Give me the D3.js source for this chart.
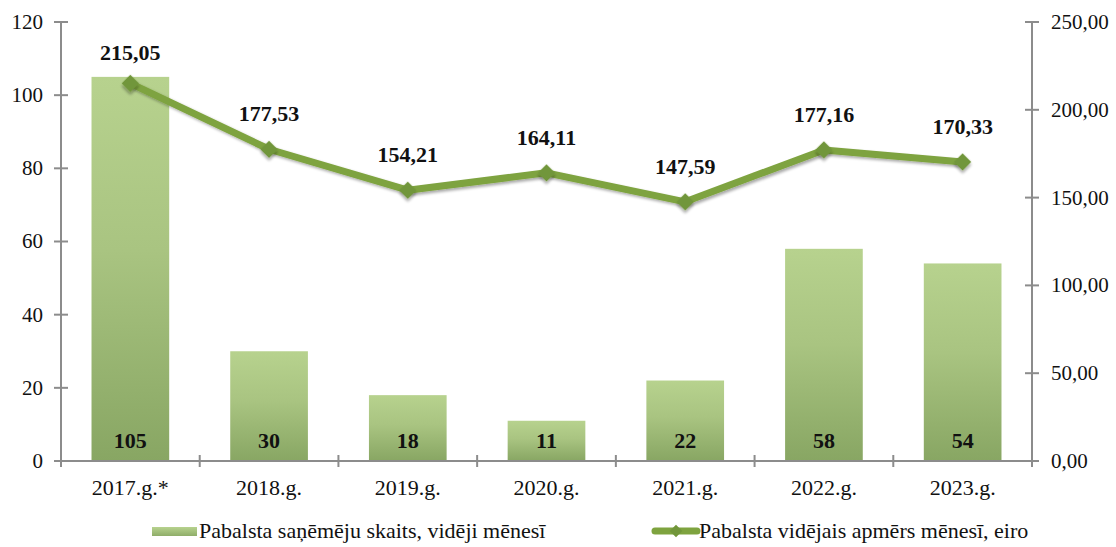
<!DOCTYPE html>
<html>
<head>
<meta charset="utf-8">
<script src="https://cdn.jsdelivr.net/npm/d3@7"></script>
<style>
  html, body { margin: 0; padding: 0; background: #fff; }
  svg { display: block; }
  svg text { font-family: 'Liberation Serif', 'Times New Roman', Times, 'DejaVu Serif', serif; }
</style>
</head>
<body>
<svg id="chart" width="1116" height="547"></svg>
<script>
// Pabalsta saņēmēji un vidējais apmērs pa gadiem
const years = ["2017.g.*", "2018.g.", "2019.g.", "2020.g.", "2021.g.", "2022.g.", "2023.g."];
const recipients = [105, 30, 18, 11, 22, 58, 54];
const avgAmount = [215.05, 177.53, 154.21, 164.11, 147.59, 177.16, 170.33];
const leftTicks = [0, 20, 40, 60, 80, 100, 120];
const rightTicks = [0, 50, 100, 150, 200, 250];
const legendLabels = [
  "Pabalsta sa\u0146\u0113m\u0113ju skaits, vid\u0113ji m\u0113nes\u012B",
  "Pabalsta vid\u0113jais apm\u0113rs m\u0113nes\u012B, eiro"
];

const FONT = "'Liberation Serif', 'Times New Roman', Times, 'DejaVu Serif', serif";
const FS = 21;
const svg = d3.select("#chart").attr("font-family", FONT);
const m = { left: 61, right: 1032, top: 22, bottom: 461 };

const x = d3.scaleBand().domain(years).range([m.left, m.right]).paddingInner(0.44).paddingOuter(0.22);
const xBand = d3.scaleBand().domain(years).range([m.left, m.right]);
const yL = d3.scaleLinear().domain([0, 120]).range([m.bottom, m.top]);
const yR = d3.scaleLinear().domain([0, 250]).range([m.bottom, m.top]);

const fmt = v => d3.format(".2f")(v).replace(".", ",");
const axisColor = "#8c8c8c";

const defs = svg.append("defs");
const grad = defs.append("linearGradient").attr("id", "barGrad")
  .attr("x1", 0).attr("y1", 0).attr("x2", 0).attr("y2", 1);
grad.append("stop").attr("offset", "0%").attr("stop-color", "#b7d28e");
grad.append("stop").attr("offset", "45%").attr("stop-color", "#a9c481");
grad.append("stop").attr("offset", "100%").attr("stop-color", "#88a663");

const lgGrad = defs.append("linearGradient").attr("id", "legGrad")
  .attr("x1", 0).attr("y1", 0).attr("x2", 0).attr("y2", 1);
lgGrad.append("stop").attr("offset", "0%").attr("stop-color", "#b7d28e");
lgGrad.append("stop").attr("offset", "100%").attr("stop-color", "#8fad69");

const shadow = defs.append("filter").attr("id", "shadow").attr("x", "-50%").attr("y", "-50%").attr("width", "200%").attr("height", "200%");
shadow.append("feGaussianBlur").attr("in", "SourceAlpha").attr("stdDeviation", 1.5);
shadow.append("feOffset").attr("dx", 1.5).attr("dy", 2).attr("result", "ob");
shadow.append("feComponentTransfer").append("feFuncA").attr("type", "linear").attr("slope", 0.35);
const mg = shadow.append("feMerge");
mg.append("feMergeNode");
mg.append("feMergeNode").attr("in", "SourceGraphic");

// Bars
svg.append("g").selectAll("rect").data(recipients).join("rect")
  .attr("x", (d, i) => x(years[i]))
  .attr("width", x.bandwidth())
  .attr("y", d => yL(d))
  .attr("height", d => yL(0) - yL(d))
  .attr("fill", "url(#barGrad)");

// Bar value labels
svg.append("g").selectAll("text").data(recipients).join("text")
  .attr("x", (d, i) => x(years[i]) + x.bandwidth() / 2)
  .attr("y", yL(0) - 13)
  .attr("text-anchor", "middle")
  .attr("font-family", FONT)
  .attr("font-weight", "bold")
  .attr("font-size", 22)
  .attr("fill", "#111")
  .text(d => d);

// Left axis
const gL = svg.append("g");
gL.append("line").attr("x1", m.left).attr("x2", m.left).attr("y1", m.top).attr("y2", m.bottom)
  .attr("stroke", axisColor).attr("stroke-width", 2);
gL.selectAll("line.t").data(leftTicks).join("line").attr("class", "t")
  .attr("x1", m.left - 7).attr("x2", m.left + 7).attr("y1", d => yL(d)).attr("y2", d => yL(d))
  .attr("stroke", axisColor).attr("stroke-width", 2);
gL.selectAll("text").data(leftTicks).join("text")
  .attr("x", m.left - 18).attr("y", d => yL(d)).attr("dy", "0.33em")
  .attr("text-anchor", "end").attr("font-family", FONT).attr("font-size", FS).attr("fill", "#111")
  .text(d => d);

// Right axis
const gR = svg.append("g");
gR.append("line").attr("x1", m.right).attr("x2", m.right).attr("y1", m.top).attr("y2", m.bottom)
  .attr("stroke", axisColor).attr("stroke-width", 2);
gR.selectAll("line.t").data(rightTicks).join("line").attr("class", "t")
  .attr("x1", m.right - 7).attr("x2", m.right + 7).attr("y1", d => yR(d)).attr("y2", d => yR(d))
  .attr("stroke", axisColor).attr("stroke-width", 2);
gR.selectAll("text").data(rightTicks).join("text")
  .attr("x", m.right + 19).attr("y", d => yR(d)).attr("dy", "0.33em")
  .attr("text-anchor", "start").attr("font-family", FONT).attr("font-size", FS).attr("fill", "#111")
  .text(d => fmt(d));

// Category axis
const gX = svg.append("g");
gX.append("line").attr("x1", m.left).attr("x2", m.right).attr("y1", m.bottom).attr("y2", m.bottom)
  .attr("stroke", axisColor).attr("stroke-width", 2);
const bounds = years.map(y => xBand(y)).concat([m.right]);
gX.selectAll("line.t").data(bounds).join("line").attr("class", "t")
  .attr("x1", d => d).attr("x2", d => d).attr("y1", m.bottom - 6).attr("y2", m.bottom + 6)
  .attr("stroke", axisColor).attr("stroke-width", 2);
gX.selectAll("text").data(years).join("text")
  .attr("x", d => xBand(d) + xBand.bandwidth() / 2).attr("y", m.bottom + 34)
  .attr("text-anchor", "middle").attr("font-family", FONT).attr("font-size", 22).attr("fill", "#111")
  .text(d => d);

// Line series
const cx = (d, i) => xBand(years[i]) + xBand.bandwidth() / 2;
const line = d3.line().x(cx).y(d => yR(d));
svg.append("path").datum(avgAmount)
  .attr("d", line).attr("fill", "none")
  .attr("stroke", "#7ea33f").attr("stroke-width", 7).attr("stroke-linejoin", "round")
  .attr("filter", "url(#shadow)");

svg.append("g").selectAll("path").data(avgAmount).join("path")
  .attr("transform", (d, i) => `translate(${cx(d, i)},${yR(d)}) rotate(45)`)
  .attr("d", d3.symbol().type(d3.symbolSquare).size(150))
  .attr("fill", "#71963a")
  .attr("filter", "url(#shadow)");

// Value labels above the points, kept inside the plot area
svg.append("g").selectAll("text").data(avgAmount).join("text")
  .attr("x", cx).attr("y", d => Math.max(yR(d) - 28, m.top + 38))
  .attr("text-anchor", "middle").attr("font-family", FONT).attr("font-weight", "bold").attr("font-size", 22).attr("fill", "#111")
  .text(d => fmt(d));

// Legend
const lg = svg.append("g");
lg.append("rect").attr("x", 152).attr("y", 527).attr("width", 45).attr("height", 9).attr("fill", "url(#legGrad)");
lg.append("text").attr("x", 199).attr("y", 531).attr("dy", "0.33em").attr("font-family", FONT).attr("font-size", 22).attr("fill", "#111")
  .text(legendLabels[0]);
lg.append("line").attr("x1", 655).attr("x2", 697).attr("y1", 531).attr("y2", 531)
  .attr("stroke", "#7ea33f").attr("stroke-width", 7).attr("stroke-linecap", "round");
lg.append("path").attr("transform", "translate(676,531) rotate(45)")
  .attr("d", d3.symbol().type(d3.symbolSquare).size(80)).attr("fill", "#71963a");
lg.append("text").attr("x", 699).attr("y", 531).attr("dy", "0.33em").attr("font-family", FONT).attr("font-size", 22).attr("fill", "#111")
  .text(legendLabels[1]);
</script>
</body>
</html>
